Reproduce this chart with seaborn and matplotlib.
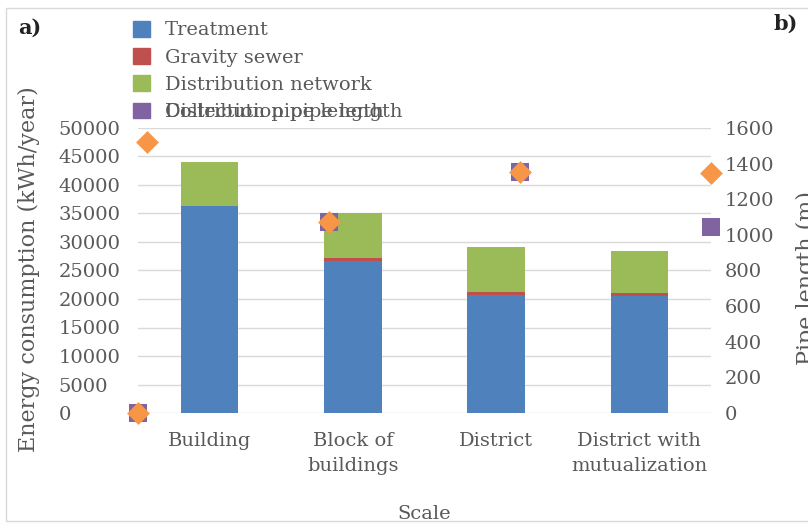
import pandas as pd
import matplotlib
matplotlib.use('Agg')
import matplotlib.pyplot as plt
import seaborn as sns
from matplotlib.patches import Patch, Rectangle
from matplotlib.transforms import IdentityTransform

# energy consumption per scale (kWh/year)
escalas = ['Building', 'Block of\nbuildings', 'District', 'District with\nmutualization']
treatment = [36370, 26670, 20700, 20580]
gravity_sewer = [0, 580, 580, 420]
distribution_network = [7720, 7890, 7790, 7470]

# pipe lengths (m), on the secondary axes
collection_x = [1, 2, 3, 4]
collection_len = [0, 1075, 1351, 1042]
distribution_x = [1, 1.045, 2, 3, 4]
distribution_len = [0, 1523, 1075, 1351, 1349]

azul = '#4F81BD'
vermelho = '#C0504D'
verde = '#9BBB59'
roxo = '#8064A2'
laranja = '#F79646'
cinza = '#595959'

sns.set_theme(style='white')
plt.rcParams['font.family'] = ['DejaVu Serif']
plt.rcParams['font.size'] = 14

df = pd.DataFrame({'Scale': escalas, 'Treatment': treatment,
                   'Gravity sewer': gravity_sewer,
                   'Distribution network': distribution_network})
df['ate_sewer'] = df['Treatment'] + df['Gravity sewer']
df['total'] = df['ate_sewer'] + df['Distribution network']

fig = plt.figure(figsize=(8.08, 5.23), dpi=100)
ax = fig.add_axes([138/808, 1 - 413/523, 573/808, 285/523])

sns.barplot(data=df, x='Scale', y='total', color=verde, width=0.4, saturation=1, linewidth=0, ax=ax, zorder=2)
sns.barplot(data=df, x='Scale', y='ate_sewer', color=vermelho, width=0.4, saturation=1, linewidth=0, ax=ax, zorder=2)
sns.barplot(data=df, x='Scale', y='Treatment', color=azul, width=0.4, saturation=1, linewidth=0, ax=ax, zorder=2)

ax.set_xlim(-0.5, 3.5)
ax.set_ylim(0, 50000)
ax.set_yticks(range(0, 50001, 5000))
ax.yaxis.grid(True, color='#d9d9d9', linewidth=1)
ax.set_axisbelow(True)
for s in ax.spines.values():
    s.set_visible(False)
ax.tick_params(axis='y', length=0, pad=57, labelcolor=cinza, labelsize=14)
for t in ax.get_yticklabels():
    t.set_ha('left')
ax.tick_params(axis='x', length=0, pad=14, labelcolor=cinza, labelsize=14)
for t in ax.get_xticklabels():
    t.set_linespacing(1.45)
ax.set_xlabel('Scale', color=cinza, fontsize=14, va='top')
ax.xaxis.set_label_coords(0.5, -0.323)
ax.set_ylabel('Energy consumption (kWh/year)', color=cinza, fontsize=16)
ax.yaxis.set_label_coords(-0.171, 0.505)

ax2 = ax.twinx()
ax2.set_ylim(0, 1600)
ax2.set_yticks(range(0, 1601, 200))
for s in ax2.spines.values():
    s.set_visible(False)
ax2.tick_params(axis='y', length=0, pad=10, labelcolor=cinza, labelsize=14)
ax2.set_ylabel('Pipe length (m)', color=cinza, fontsize=16)
ax2.yaxis.set_label_coords(1.148, 0.474)

ax3 = ax2.twiny()
ax3.set_xlim(1, 4)
ax3.set_xticks([])
for s in ax3.spines.values():
    s.set_visible(False)
sns.scatterplot(x=collection_x, y=collection_len, ax=ax3, marker='s', color=roxo,
                s=150, linewidth=0, clip_on=False, zorder=3)
sns.scatterplot(x=distribution_x, y=distribution_len, ax=ax3, marker='D', color=laranja,
                s=135, linewidth=0, clip_on=False, zorder=4)
ax3.set_ylim(0, 1600)

handles = [Patch(color=azul), Patch(color=vermelho), Patch(color=verde), Patch(color=roxo)]
labels = ['Treatment', 'Gravity sewer', 'Distribution network', 'Collection pipe length']
leg = fig.legend(handles, labels, loc='upper left', bbox_to_anchor=(133/808, 1 - 21/523),
                 frameon=False, handlelength=0.85, handleheight=0.85, handletextpad=0.8,
                 labelspacing=0.45, borderpad=0, borderaxespad=0, fontsize=14, labelcolor=cinza)

fig.text(18/808, 1 - 28/523, 'a)', fontsize=15, fontweight='bold', va='center', color='#222222')
fig.text(773/808, 1 - 24/523, 'b)', fontsize=15, fontweight='bold', va='center', color='#222222')

fig.patches.append(Rectangle((6/808, 2/523), 1.1, 513/523, fill=False, edgecolor='#d9d9d9',
                             linewidth=1, transform=fig.transFigure))

# the second pipe series label is drawn on top of the first, as in the original
fig.canvas.draw()
bb = leg.get_texts()[3].get_window_extent()
fig.text(bb.x0, bb.y0, 'Distribution pipe length', transform=IdentityTransform(),
         ha='left', va='bottom', fontsize=14, color=cinza)

fig.savefig('out.png', dpi=100)
plt.close()
